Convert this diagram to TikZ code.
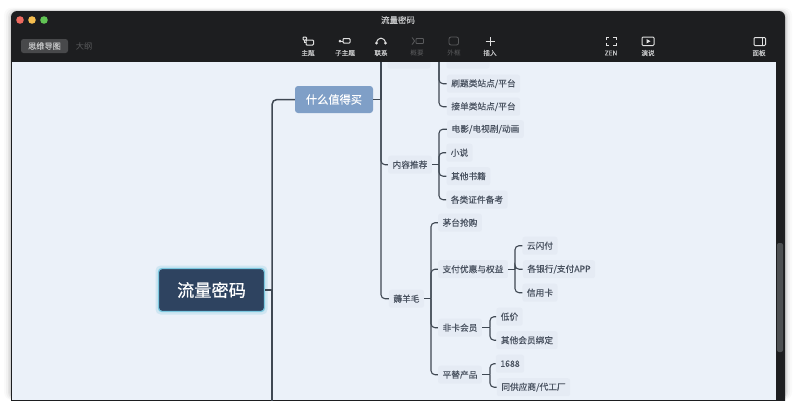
\documentclass[tikz,border=0pt]{standalone}
\usepackage{fontspec}
\setmainfont{Noto Sans CJK SC}
\newfontfamily\medfont[FakeBold=0.25]{Noto Sans CJK SC}
\newfontfamily\hvyfont[FakeBold=0.5]{Noto Sans CJK SC}
\usetikzlibrary{calc}
\definecolor{canvasbg}{HTML}{EBF1F9}
\definecolor{chrome}{HTML}{1D1E20}
\definecolor{linecol}{HTML}{3F4853}
\definecolor{leafbg}{HTML}{E5EBF4}
\definecolor{leaftx}{HTML}{4A5361}
\definecolor{rootbg}{HTML}{2E4360}
\definecolor{rootbd}{HTML}{7CC8E0}
\definecolor{mainbg}{HTML}{7F9FC7}
\definecolor{tooltx}{HTML}{C4C5C6}
\definecolor{tooldim}{HTML}{5A5B5D}
\definecolor{lightred}{HTML}{EE6A5F}
\definecolor{lightyel}{HTML}{F5BD4F}
\definecolor{lightgrn}{HTML}{61C454}
\definecolor{tabbg}{HTML}{48494B}
\definecolor{scrollc}{HTML}{4D5052}
\tikzset{
  leaf/.style={fill=leafbg,text=leaftx,rounded corners=2.5pt,inner xsep=4.5pt,inner ysep=0pt,minimum height=18pt,yshift=-0.7pt,font=\medfont\fontsize{8.7}{10}\selectfont},
  mainnode/.style={fill=mainbg,text=white,rounded corners=3pt,inner sep=0pt,minimum width=78pt,minimum height=27pt,font=\medfont\fontsize{11.2}{13}\selectfont},
  rootnode/.style={fill=rootbg,draw=rootbd,line width=1.3pt,text=white,rounded corners=3.5pt,inner sep=0pt,minimum width=106pt,minimum height=43pt,font=\hvyfont\fontsize{17.2}{20}\selectfont},
  conn/.style={draw=linecol,line width=1.1pt,rounded corners=4pt},
  spine/.style={draw=linecol,line width=1.5pt,rounded corners=5pt},
  toollabel/.style={text=tooltx,inner sep=0pt,font=\medfont\fontsize{6.6}{8}\selectfont},
  dimlabel/.style={text=tooldim,inner sep=0pt,font=\fontsize{6.6}{8}\selectfont},
  icon/.style={draw=white!88!black,line width=1pt},
  dimicon/.style={draw=tooldim,line width=.8pt},
}
\begin{document}
\begin{tikzpicture}[x=1pt,y=-1pt]
\useasboundingbox (0,0) rectangle (796,400);
\fill[white] (0,0) rectangle (796,400);
% soft window shadow
\foreach \d/\o in {7/.02,5/.03,3/.05,1.5/.08}{
  \fill[black,opacity=\o,rounded corners=8pt] (11-\d,11-\d/2) rectangle (785+\d,400);
}
\begin{scope}
\clip (0,0) rectangle (796,400);
\fill[chrome,rounded corners=6pt] (11,11) rectangle (785,420);
\end{scope}
\fill[canvasbg] (12,62) rectangle (776,400);
% ---- nodes
\begin{scope}
\clip (12,50) rectangle (776,400);
\fill[rootbd,opacity=.25,rounded corners=5pt] (155.5,265.5) rectangle (267.5,314.5);
\node[rootnode] (root) at (211.5,290) {流量密码};
\node[mainnode] (mai) at (334,99.5) {什么值得买};
\node[leaf,minimum width=43pt] (top1) at (409,59) {\phantom{内容}};
\node[leaf,minimum width=43pt] (top2) at (468,59) {\phantom{内容}};
\node[leaf] (shua) at (483.5,83) {刷题类站点/平台};
\node[leaf] (jie) at (483.5,106) {接单类站点/平台};
\node[leaf] (nei) at (410,164) {内容推荐};
\node[leaf] (dy) at (485.5,128.5) {电影/电视剧/动画};
\node[leaf] (xs) at (459.5,152) {小说};
\node[leaf] (qt) at (468.5,175.5) {其他书籍};
\node[leaf] (gl) at (477,199) {各类证件备考};
\node[leaf] (hao) at (406.5,298) {薅羊毛};
\node[leaf] (mt) at (460,222) {茅台抢购};
\node[leaf] (zf) at (473,268.5) {支付优惠与权益};
\node[leaf] (yun) at (540,245) {云闪付};
\node[leaf] (yh) at (559,268.5) {各银行/支付APP};
\node[leaf] (xy) at (540,292) {信用卡};
\node[leaf] (fk) at (460,327) {非卡会员};
\node[leaf] (dj) at (509.5,316) {低价};
\node[leaf] (qh) at (527,339.5) {其他会员绑定};
\node[leaf] (pt) at (460,374) {平替产品};
\node[leaf] (n1688) at (510,363) {1688};
\node[leaf] (tg) at (533.5,386.5) {同供应商/代工厂};
% ---- connector junctions and free ends
\coordinate (j0) at (272,290);
\coordinate (j0b) at (272,410);
\coordinate (j1) at (381,99.5);
\coordinate (j1t) at (381,50);
\coordinate (j2t) at (439,50);
\coordinate (j3) at (439,164.7);
\coordinate (j4) at (431,298.7);
\coordinate (j5) at (515,269.2);
\coordinate (j6) at (490,327.7);
\coordinate (j7) at (490,374.7);
% ---- connectors
\draw[spine] (root.east) -- (j0);
\draw[spine] (j0) |- (mai.west);
\draw[spine,rounded corners=0pt] (j0) -- (j0b);
\draw[conn] (mai.east) -- (j1);
\draw[conn,rounded corners=0pt] (j1t) -- (j1);
\draw[conn] (j1) |- (nei.west);
\draw[conn] (j1) |- (hao.west);
\draw[conn] (j2t) |- (shua.west);
\draw[conn] (j2t) |- (jie.west);
\draw[conn] (nei.east) -- (j3);
\foreach \k in {dy,xs,qt,gl}{\draw[conn] (j3) |- (\k.west);}
\draw[conn] (hao.east) -- (j4);
\foreach \k in {mt,zf,fk,pt}{\draw[conn] (j4) |- (\k.west);}
\draw[conn] (zf.east) -- (j5);
\foreach \k in {yun,yh,xy}{\draw[conn] (j5) |- (\k.west);}
\draw[conn] (fk.east) -- (j6);
\foreach \k in {dj,qh}{\draw[conn] (j6) |- (\k.west);}
\draw[conn] (pt.east) -- (j7);
\foreach \k in {n1688,tg}{\draw[conn] (j7) |- (\k.west);}
\end{scope}
% ---- toolbar over the canvas
\fill[chrome] (11,30) rectangle (785,62);
\fill[scrollc,rounded corners=2pt] (777,243) rectangle (783,352);
\fill[lightred] (20,20) circle (3.8);
\fill[lightyel] (32,20) circle (3.8);
\fill[lightgrn] (44,20) circle (3.8);
\node[toollabel,font=\medfont\fontsize{8.5}{10}\selectfont] (title) at (398,20) {流量密码};
\node[fill=tabbg,text=tooltx,rounded corners=2.5pt,inner sep=0pt,minimum width=47pt,minimum height=14pt,font=\medfont\fontsize{8.2}{10}\selectfont] (tab1) at (44.5,46) {思维导图};
\node[dimlabel,font=\fontsize{8.2}{10}\selectfont] (tab2) at (84,46) {大纲};
\node[toollabel] (l1) at (308,53) {主题};
\node[toollabel] (l2) at (345,53) {子主题};
\node[toollabel] (l3) at (381,53) {联系};
\node[dimlabel] (l4) at (417,53) {概要};
\node[dimlabel] (l5) at (454,53) {外框};
\node[toollabel] (l6) at (490,53) {插入};
\node[toollabel] (l7) at (611,53) {ZEN};
\node[toollabel] (l8) at (648,53) {演说};
\node[toollabel] (l9) at (759,53) {面板};
% icons
\draw[icon,rounded corners=.8pt] (306,40) rectangle (313.5,45);
\draw[icon,rounded corners=.8pt] (303,37) rectangle (306.5,40);
\draw[icon] (304.5,40) -- (304.5,42.5) -- (306,42.5);
\fill[white!88!black] (340,41) circle (1.5);
\draw[icon] (341,41) -- (343,41);
\draw[icon,rounded corners=.8pt] (343,38.5) rectangle (350,43);
\draw[icon] (376.5,43) .. controls (377.5,36.5) and (384.5,36.5) .. (385.5,43);
\fill[white!88!black] (376.5,43) circle (1.5);
\fill[white!88!black] (385.5,43) circle (1.5);
\draw[dimicon] (412,37.5) .. controls (414,38) and (413,40.5) .. (414.5,41) .. controls (413,41.5) and (414,44) .. (412,44.5);
\draw[dimicon,rounded corners=.8pt] (416,38.5) rectangle (423.5,43.5);
\draw[dimicon,rounded corners=2pt] (449,37) rectangle (458.5,45);
\draw[icon] (490,37) -- (490,45.5) (485.5,41) -- (494.5,41);
\draw[icon] (606,40) -- (606,37.5) -- (609,37.5) (613,37.5) -- (616,37.5) -- (616,40)
            (616,43) -- (616,45.5) -- (613,45.5) (609,45.5) -- (606,45.5) -- (606,43);
\draw[icon,rounded corners=1pt] (642,37) rectangle (654,45.5);
\fill[white!88!black] (646.5,39) -- (650.5,41.2) -- (646.5,43.5) -- cycle;
\draw[icon,rounded corners=1pt] (754,37.5) rectangle (765.5,45.5);
\draw[icon] (762,37.5) -- (762,45.5);
\end{tikzpicture}
\end{document}
